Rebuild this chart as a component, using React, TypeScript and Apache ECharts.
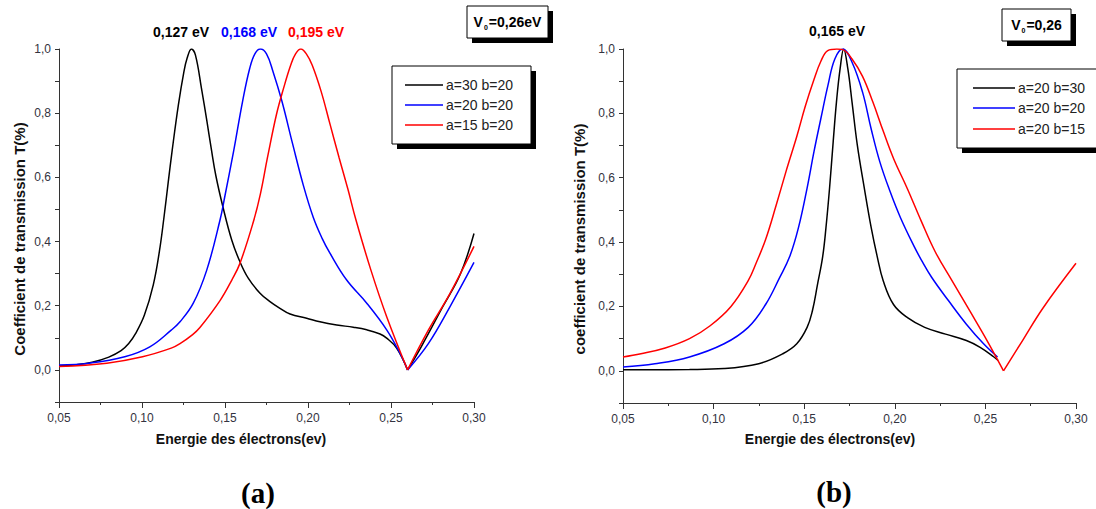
import React, { useEffect, useRef } from "react";
import * as echarts from "echarts";

// ---------- data (E in eV, T) ----------
const leftNames = ["a=30 b=20", "a=20 b=20", "a=15 b=20"];
const rightNames = ["a=20 b=30", "a=20 b=20", "a=20 b=15"];
const colors = ["#000000", "#0000ff", "#ff0000"];

const leftA30: number[][] = [
  [0.05, 0.012], [0.06, 0.016], [0.07, 0.024], [0.08, 0.04], [0.0874, 0.06], [0.092, 0.082],
  [0.096, 0.112], [0.1014, 0.17], [0.1068, 0.265], [0.1105, 0.37], [0.1133, 0.478], [0.1158, 0.585],
  [0.1182, 0.685], [0.1219, 0.825], [0.1251, 0.925], [0.1272, 0.972], [0.1298, 1.0], [0.1322, 0.981],
  [0.1358, 0.878], [0.1391, 0.775], [0.1417, 0.69], [0.1445, 0.605], [0.1488, 0.507], [0.1541, 0.404],
  [0.159, 0.337], [0.164, 0.286], [0.1711, 0.239], [0.1771, 0.213], [0.1831, 0.192], [0.1892, 0.174],
  [0.1992, 0.161], [0.2072, 0.15], [0.2173, 0.14], [0.2273, 0.133], [0.2354, 0.125], [0.2434, 0.112],
  [0.2474, 0.099], [0.2534, 0.068], [0.26, 0.0], [0.2682, 0.072], [0.2811, 0.196], [0.2918, 0.299],
  [0.3, 0.425],
];
const leftA20: number[][] = [
  [0.05, 0.0155], [0.0681, 0.021], [0.0896, 0.041], [0.1047, 0.072], [0.1176, 0.124], [0.1229, 0.15],
  [0.1309, 0.208], [0.139, 0.311], [0.147, 0.467], [0.1498, 0.538], [0.1552, 0.682], [0.1606, 0.837],
  [0.1649, 0.94], [0.168, 0.985], [0.1713, 1.0], [0.175, 0.985], [0.1789, 0.93], [0.1843, 0.837],
  [0.1907, 0.705], [0.1972, 0.575], [0.2032, 0.475], [0.2085, 0.41], [0.2133, 0.363], [0.2233, 0.28],
  [0.2354, 0.208], [0.2474, 0.125], [0.2554, 0.052], [0.26, 0.0], [0.2725, 0.082], [0.2854, 0.196],
  [0.3, 0.335],
];
const leftA15: number[][] = [
  [0.05, 0.0103], [0.0788, 0.021], [0.1003, 0.041], [0.1176, 0.068], [0.1229, 0.082], [0.1305, 0.11],
  [0.1349, 0.132], [0.147, 0.216], [0.1541, 0.28], [0.159, 0.332], [0.167, 0.46], [0.1713, 0.548],
  [0.1756, 0.662], [0.181, 0.796], [0.1853, 0.878], [0.1896, 0.95], [0.1925, 0.985], [0.1957, 1.0],
  [0.199, 0.985], [0.2025, 0.95], [0.2079, 0.868], [0.2133, 0.765], [0.2187, 0.662], [0.2241, 0.562],
  [0.2289, 0.467], [0.2379, 0.311], [0.2474, 0.166], [0.26, 0.0], [0.2725, 0.124], [0.2854, 0.237],
  [0.3, 0.385],
];

const rightB30: number[][] = [
  [0.05, 0.003], [0.0867, 0.004], [0.1058, 0.007], [0.1249, 0.022], [0.1382, 0.053], [0.1459, 0.084],
  [0.1516, 0.135], [0.1545, 0.186], [0.1573, 0.267], [0.1602, 0.355], [0.162, 0.444], [0.164, 0.568],
  [0.166, 0.712], [0.1678, 0.835], [0.1698, 0.938], [0.1718, 1.0], [0.1741, 0.938], [0.1764, 0.835],
  [0.1793, 0.702], [0.1831, 0.57], [0.187, 0.444], [0.1903, 0.355], [0.1936, 0.28], [0.1993, 0.206],
  [0.207, 0.165], [0.2165, 0.135], [0.228, 0.114], [0.2395, 0.094], [0.2471, 0.073], [0.2547, 0.043],
  [0.257, 0.032],
];
const rightB20: number[][] = [
  [0.05, 0.012], [0.0676, 0.022], [0.0867, 0.043], [0.1058, 0.084], [0.1191, 0.135], [0.1287, 0.206],
  [0.1363, 0.288], [0.142, 0.355], [0.1468, 0.444], [0.1516, 0.568], [0.1554, 0.681], [0.1592, 0.784],
  [0.1631, 0.887], [0.1669, 0.969], [0.1713, 1.0], [0.1764, 0.959], [0.1822, 0.866], [0.1869, 0.753],
  [0.1917, 0.65], [0.1974, 0.557], [0.2032, 0.475], [0.2108, 0.385], [0.2146, 0.345], [0.2204, 0.29],
  [0.2299, 0.216], [0.2395, 0.145], [0.249, 0.084], [0.2567, 0.043],
];
const rightB15: number[][] = [
  [0.05, 0.043], [0.0599, 0.053], [0.0733, 0.071], [0.0867, 0.1], [0.0981, 0.14], [0.1096, 0.2],
  [0.1191, 0.28], [0.1235, 0.335], [0.1287, 0.408], [0.1344, 0.512], [0.1401, 0.622], [0.1459, 0.728],
  [0.1506, 0.822], [0.1554, 0.905], [0.1592, 0.962], [0.163, 0.995], [0.168, 1.0], [0.1713, 0.998],
  [0.1764, 0.969], [0.1822, 0.915], [0.1879, 0.835], [0.1936, 0.745], [0.1993, 0.66], [0.207, 0.565],
  [0.2146, 0.465], [0.2223, 0.37], [0.2318, 0.278], [0.2414, 0.186], [0.2509, 0.094], [0.26, 0.0],
  [0.2705, 0.094], [0.2819, 0.196], [0.3, 0.334],
];

const dipE = 0.26;
const leftPeakLabels = ["0,127 eV", "0,168 eV", "0,195 eV"];
const rightPeakLabel = "0,165 eV";
const xMin = 0.05, xMax = 0.3, xStep = 0.05;
const yMin = -0.1, yMax = 1.0, yStep = 0.1;
const xName = "Energie des électrons(ev)";
const yNameLeft = "Coefficient de transmission T(%)";
const yNameRight = "coefficient de transmission T(%)";

const SANS = "'Liberation Sans', Arial, sans-serif";

function legendBox(x: number, y: number, w: number, h: number, rows: number[], lineX: number[], textX: number, names: string[]) {
  const els: any[] = [
    { type: "rect", shape: { x: x + 5, y: y + 5, width: w, height: h }, style: { fill: "#000" }, silent: true },
    { type: "rect", shape: { x, y, width: w, height: h }, style: { fill: "#fff", stroke: "#000", lineWidth: 1 }, silent: true },
  ];
  names.forEach((n, i) => {
    els.push({ type: "line", shape: { x1: lineX[0], y1: rows[i], x2: lineX[1], y2: rows[i] }, style: { stroke: colors[i], lineWidth: 1.5 } });
    els.push({ type: "text", x: textX, y: rows[i], style: { text: n, font: `14px ${SANS}`, fill: "#222", verticalAlign: "middle", align: "left" } });
  });
  return els;
}

function v0Box(x: number, y: number, w: number, h: number, label: string) {
  return [
    { type: "rect", shape: { x: x + 5, y: y + 5, width: w, height: h }, style: { fill: "#000" } },
    { type: "rect", shape: { x, y, width: w, height: h }, style: { fill: "#fff", stroke: "#000", lineWidth: 1 } },
    {
      type: "text", x: x + w / 2, y: y + h / 2,
      style: {
        text: `{v|V}{s|0}{v|${label}}`, align: "center", verticalAlign: "middle",
        rich: {
          v: { font: `bold 14px ${SANS}`, fill: "#000", lineHeight: 18, verticalAlign: "middle" },
          s: { font: `bold 7px ${SANS}`, fill: "#000", lineHeight: 18, verticalAlign: "bottom", padding: [0, 1, 0, 1] },
        },
      },
    },
  ];
}

// separate a curve at the resonance dip so the V stays sharp
function splitAtDip(data: number[][]): number[][][] {
  const a = data.filter((p) => p[0] <= dipE);
  const b = data.filter((p) => p[0] >= dipE);
  return b.length > 1 ? [a, b] : [a];
}

export default function App() {
  const ref = useRef<HTMLDivElement>(null);
  useEffect(() => {
    document.body.style.margin = "0";
    const chart = echarts.init(ref.current!, null, { renderer: "svg" });
    const axisLineStyle = { color: "#333", width: 1 };
    const mkX = (gi: number) => ({
      type: "value", gridIndex: gi, min: xMin, max: xMax, interval: xStep,
      axisLine: { show: true, onZero: false, lineStyle: axisLineStyle },
      axisTick: { show: true, inside: false, length: 6, lineStyle: axisLineStyle },
      minorTick: { show: true, splitNumber: 2, length: 3, lineStyle: axisLineStyle },
      splitLine: { show: false },
      axisLabel: { fontFamily: SANS, fontSize: 12, color: "#333340", margin: 10, formatter: (v: number) => v.toFixed(2).replace(".", ",") },
    });
    const mkY = (gi: number) => ({
      type: "value", gridIndex: gi, min: yMin, max: yMax, interval: yStep,
      axisLine: { show: true, onZero: false, lineStyle: axisLineStyle },
      axisTick: { show: true, inside: false, length: 4, lineStyle: axisLineStyle },
      splitLine: { show: false },
      axisLabel: {
        fontFamily: SANS, fontSize: 12, color: "#333340", margin: 8,
        formatter: (v: number) => {
          const k = Math.round(v * 10);
          if (k < 0 || k % 2 !== 0) return "";
          return (k / 10).toFixed(1).replace(".", ",");
        },
      },
    });
    const series: any[] = [];
    const addCurve = (name: string, data: number[][], ci: number, gi: number) => {
      splitAtDip(data).forEach((seg) => {
        series.push({
          type: "line", name, data: seg, xAxisIndex: gi, yAxisIndex: gi, showSymbol: false, symbol: "none",
          smooth: 0.4,
          lineStyle: { color: colors[ci], width: 1.5 }, itemStyle: { color: colors[ci] },
        });
      });
    };
    addCurve(leftNames[0], leftA30, 0, 0);
    addCurve(leftNames[1], leftA20, 1, 0);
    addCurve(leftNames[2], leftA15, 2, 0);
    addCurve(rightNames[0], rightB30, 0, 1);
    addCurve(rightNames[1] + " ", rightB20, 1, 1);
    addCurve(rightNames[2], rightB15, 2, 1);

    const graphic: any[] = [
      ...legendBox(392, 66, 139, 78, [85, 105, 125], [405, 443], 446, leftNames),
      ...legendBox(957, 69, 150, 79, [88, 108, 129], [973, 1015], 1018, rightNames),
      ...v0Box(467, 6, 81, 32, "=0,26eV"),
      ...v0Box(1002, 9, 69, 32, "=0,26"),
      { type: "text", x: 181, y: 32, style: { text: leftPeakLabels[0], font: `bold 14px ${SANS}`, fill: colors[0], align: "center", verticalAlign: "middle" } },
      { type: "text", x: 249, y: 32, style: { text: leftPeakLabels[1], font: `bold 14px ${SANS}`, fill: colors[1], align: "center", verticalAlign: "middle" } },
      { type: "text", x: 316, y: 32, style: { text: leftPeakLabels[2], font: `bold 14px ${SANS}`, fill: colors[2], align: "center", verticalAlign: "middle" } },
      { type: "text", x: 837, y: 31, style: { text: rightPeakLabel, font: `bold 14px ${SANS}`, fill: "#000", align: "center", verticalAlign: "middle" } },
      { type: "text", x: 241, y: 439, style: { text: xName, font: `bold 14px ${SANS}`, fill: "#111", align: "center", verticalAlign: "middle" } },
      { type: "text", x: 830, y: 439, style: { text: xName, font: `bold 14px ${SANS}`, fill: "#111", align: "center", verticalAlign: "middle" } },
      { type: "text", x: 19, y: 239, rotation: Math.PI / 2, style: { text: yNameLeft, font: `bold 15px ${SANS}`, fill: "#111", align: "center", verticalAlign: "middle" } },
      { type: "text", x: 579, y: 239, rotation: Math.PI / 2, style: { text: yNameRight, font: `bold 15px ${SANS}`, fill: "#111", align: "center", verticalAlign: "middle" } },
      { type: "text", x: 258, y: 493, style: { text: "(a)", font: `bold 29px 'Liberation Serif', 'Times New Roman', serif`, fill: "#000", align: "center", verticalAlign: "middle" } },
      { type: "text", x: 834, y: 492, style: { text: "(b)", font: `bold 29px 'Liberation Serif', 'Times New Roman', serif`, fill: "#000", align: "center", verticalAlign: "middle" } },
    ];

    chart.setOption({
      animation: false,
      backgroundColor: "#ffffff",
      grid: [
        { left: 59, top: 49, width: 415, height: 353 },
        { left: 623, top: 49, width: 453, height: 354 },
      ],
      xAxis: [mkX(0), mkX(1)],
      yAxis: [mkY(0), mkY(1)],
      series,
      graphic,
    });
    return () => chart.dispose();
  }, []);
  return <div ref={ref} style={{ width: 1096, height: 509, background: "#fff" }} />;
}
